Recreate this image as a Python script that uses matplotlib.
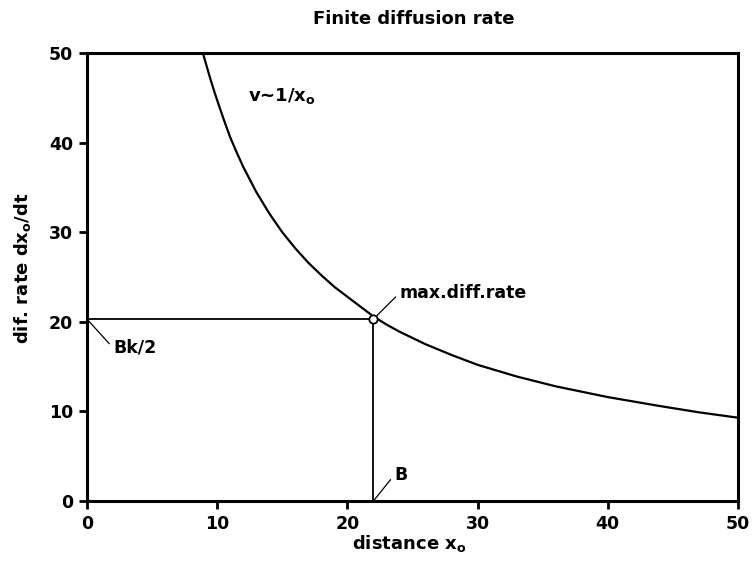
import numpy as np
import matplotlib
matplotlib.use("Agg")
import matplotlib.pyplot as plt

plt.rcParams['font.family'] = ['DejaVu Sans']
plt.rcParams['font.weight'] = 'bold'
plt.rcParams['mathtext.fontset'] = 'dejavusans'
plt.rcParams['mathtext.default'] = 'bf'

# curve (v ~ 1/x_o)
dist = [8.9, 9.2, 9.5, 9.8, 10.1, 10.5, 11, 11.5, 12, 12.5, 13, 13.5, 14,
        15, 16, 17, 18, 19, 20, 21, 22, 23, 24, 26, 28, 30, 33, 36, 40,
        44, 47, 50]
rate = [50.0, 48.5, 47.0, 45.6, 44.3, 42.6, 40.6, 38.9, 37.3, 35.9, 34.5,
        33.3, 32.1, 30.0, 28.2, 26.6, 25.2, 23.9, 22.8, 21.7, 20.6, 19.7,
        18.9, 17.5, 16.3, 15.2, 13.9, 12.8, 11.6, 10.6, 9.9, 9.3]

b_dist = 22.0      # B
max_rate = 20.3    # Bk/2

fig = plt.figure(figsize=(7.53, 5.62), dpi=100)
ax = fig.add_axes([0.1155, 0.1085, 0.8645, 0.7972])

ax.plot(dist, rate, color='black', lw=1.6)
ax.plot([0, b_dist], [max_rate, max_rate], color='black', lw=1.3)
ax.plot([b_dist, b_dist], [0, max_rate], color='black', lw=1.3)
ax.plot([b_dist], [max_rate], 'o', ms=6, mfc='white', mec='black', mew=1.3, zorder=5)

ax.set_xlim(0, 50)
ax.set_ylim(0, 50)
ax.set_xticks([0, 10, 20, 30, 40, 50])
ax.set_yticks([0, 10, 20, 30, 40, 50])
for s in ax.spines.values():
    s.set_linewidth(2.2)
ax.tick_params(direction='out', length=6, width=2, labelsize=12.5, pad=4)
ax.set_facecolor('white')

fig.text(0.55, 0.957, 'Finite diffusion rate', fontsize=13, fontweight='bold',
         ha='center', va='baseline')
ax.set_xlabel('distance x$_o$', fontsize=13, fontweight='bold')
ax.xaxis.set_label_coords(0.495, -0.071)
ax.set_ylabel('dif. rate dx$_o$/dt', fontsize=13, fontweight='bold')
ax.yaxis.set_label_coords(-0.083, 0.52)

ax.text(12.4, 45.2, 'v~1/x$_o$', fontsize=13, fontweight='bold', va='center')

leader = dict(arrowstyle='-', color='black', lw=0.9, relpos=(0, 0.5))
ax.annotate('max.diff.rate', xy=(b_dist, max_rate), xytext=(24.0, 23.2),
            fontsize=12.5, fontweight='bold', va='center', ha='left',
            arrowprops=dict(leader, shrinkA=1, shrinkB=3))
ax.annotate('B', xy=(b_dist, 0), xytext=(23.6, 2.9),
            fontsize=12.5, fontweight='bold', va='center', ha='left',
            arrowprops=dict(leader, shrinkA=1, shrinkB=0))
ax.annotate('Bk/2', xy=(0, max_rate), xytext=(2.0, 17.1),
            fontsize=12.5, fontweight='bold', va='center', ha='left',
            arrowprops=dict(leader, shrinkA=1, shrinkB=0))

fig.savefig('out.png', dpi=100)
